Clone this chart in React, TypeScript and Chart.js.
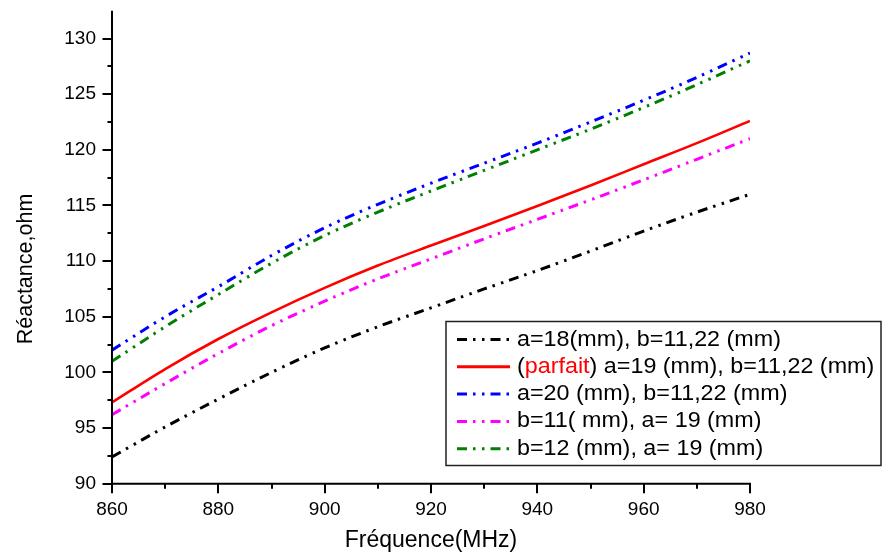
import React, { useEffect, useRef } from "react";
import { Chart, registerables } from "chart.js";

Chart.register(...registerables);

// ---- data ----
const FREQ = [860, 870, 880, 890, 900, 910, 920, 930, 940, 950, 960, 970, 980];
const A18 = [92.4, 95.1, 97.6, 100.0, 102.2, 104.1, 105.8, 107.5, 109.15, 110.9, 112.7, 114.4, 116.0];
const PARFAIT = [97.3, 100.3, 103.0, 105.4, 107.6, 109.6, 111.4, 113.15, 114.95, 116.8, 118.7, 120.6, 122.6];
const A20 = [102.0, 105.0, 107.7, 110.5, 113.0, 115.1, 117.0, 118.8, 120.6, 122.5, 124.45, 126.5, 128.7];
const B11 = [96.2, 99.0, 101.7, 104.2, 106.4, 108.4, 110.2, 112.0, 113.75, 115.5, 117.3, 119.15, 121.0];
const B12 = [101.0, 104.1, 107.0, 109.8, 112.3, 114.4, 116.3, 118.15, 120.0, 121.85, 123.8, 125.85, 128.0];

const X_TICKS = [860, 880, 900, 920, 940, 960, 980];
const Y_TICKS = [90, 95, 100, 105, 110, 115, 120, 125, 130];

const LABELS = [
  "a=18(mm), b=11,22 (mm)",
  "(parfait) a=19 (mm), b=11,22 (mm)",
  "a=20 (mm), b=11,22 (mm)",
  "b=11( mm), a= 19 (mm)",
  "b=12 (mm), a= 19 (mm)",
];
const X_TITLE = "Fréquence(MHz)";
const Y_TITLE = "Réactance,ohm";

const DASH_DOT_DOT = [10, 6, 2.5, 6.5, 2.5, 6];
const COLORS = ["#000000", "#ff0000", "#0000ff", "#ff00ff", "#008000"];
const DASHES = [DASH_DOT_DOT, [], DASH_DOT_DOT, DASH_DOT_DOT, DASH_DOT_DOT];
const SERIES = [A18, PARFAIT, A20, B11, B12];

const FONT = '"Liberation Sans", Arial, Helvetica, sans-serif';

const decorPlugin = {
  id: "decor",
  afterDraw(chart: any) {
    const { ctx, chartArea } = chart;
    const xs = chart.scales.x;
    const ys = chart.scales.y;
    const L = chartArea.left;
    const B = chartArea.bottom;
    ctx.save();
    ctx.strokeStyle = "#000";
    ctx.setLineDash([]);
    ctx.lineWidth = 2;
    // axis lines
    ctx.beginPath();
    ctx.moveTo(L, chartArea.top);
    ctx.lineTo(L, B + 1);
    ctx.moveTo(L - 1, B);
    ctx.lineTo(xs.getPixelForValue(980) + 1, B);
    ctx.stroke();
    // y ticks
    ctx.beginPath();
    for (let v = 90; v <= 132; v += 2.5) {
      const y = Math.round(ys.getPixelForValue(v));
      const major = Math.abs(v % 5) < 1e-6;
      ctx.moveTo(L - (major ? 9.5 : 4.5), y);
      ctx.lineTo(L, y);
    }
    // x ticks
    for (let v = 860; v <= 980; v += 10) {
      const x = Math.round(xs.getPixelForValue(v));
      const major = v % 20 === 0;
      ctx.moveTo(x, B);
      ctx.lineTo(x, B + (major ? 9.5 : 5));
    }
    ctx.stroke();

    // titles
    ctx.fillStyle = "#000";
    ctx.font = `23px ${FONT}`;
    ctx.textAlign = "center";
    ctx.textBaseline = "alphabetic";
    ctx.fillText(X_TITLE, (chartArea.left + chartArea.right) / 2, 546.5);
    ctx.save();
    ctx.translate(31.5, 269);
    ctx.rotate(-Math.PI / 2);
    ctx.font = `21.5px ${FONT}`;
    ctx.fillText(Y_TITLE, 0, 0);
    ctx.restore();

    // legend
    const bx = 446, by = 321.5, bw = 435, bh = 144;
    ctx.fillStyle = "#fff";
    ctx.fillRect(bx, by, bw, bh);
    ctx.lineWidth = 1.5;
    ctx.strokeStyle = "#222";
    ctx.strokeRect(bx, by, bw, bh);
    ctx.font = `22px ${FONT}`;
    ctx.textAlign = "left";
    ctx.textBaseline = "middle";
    const sx = 1.06;
    LABELS.forEach((label, i) => {
      const y = 339.5 + i * 27.3;
      ctx.beginPath();
      ctx.strokeStyle = COLORS[i];
      ctx.lineWidth = 3;
      ctx.setLineDash(DASHES[i]);
      ctx.moveTo(457, y);
      ctx.lineTo(510, y);
      ctx.stroke();
      ctx.setLineDash([]);
      let segs: { t: string; c: string }[];
      if (i === 1) {
        segs = [
          { t: "(", c: "#000" },
          { t: "parfait", c: "#ff0000" },
          { t: label.slice(8), c: "#000" },
        ];
      } else {
        segs = [{ t: label, c: "#000" }];
      }
      let x = 517;
      segs.forEach((s) => {
        ctx.save();
        ctx.translate(x, y);
        ctx.scale(sx, 1);
        ctx.fillStyle = s.c;
        ctx.fillText(s.t, 0, 0);
        ctx.restore();
        x += ctx.measureText(s.t).width * sx;
      });
    });
    ctx.restore();
  },
};

export default function App() {
  const ref = useRef<HTMLCanvasElement>(null);
  useEffect(() => {
    if (!ref.current) return;
    const chart = new Chart(ref.current, {
      type: "line",
      data: {
        datasets: SERIES.map((s, i) => ({
          label: LABELS[i],
          data: s.map((v, k) => ({ x: FREQ[k], y: v })),
          borderColor: COLORS[i],
          backgroundColor: COLORS[i],
          borderDash: DASHES[i],
          borderWidth: i === 1 ? 2.6 : 3,
          pointRadius: 0,
          cubicInterpolationMode: "monotone",
          fill: false,
        })),
      },
      options: {
        responsive: false,
        animation: false,
        events: [],
        layout: { padding: { left: 0, right: 132, top: 10.7, bottom: 0 } },
        plugins: { legend: { display: false }, tooltip: { enabled: false } },
        scales: {
          x: {
            type: "linear",
            min: 860,
            max: 980,
            afterBuildTicks: (s: any) => {
              s.ticks = X_TICKS.map((v) => ({ value: v }));
            },
            afterFit: (s: any) => {
              s.height = 73.3;
              s.paddingLeft = 0;
              s.paddingRight = 0;
            },
            grid: { display: false, drawTicks: false },
            border: { display: false },
            ticks: {
              autoSkip: false,
              maxRotation: 0,
              padding: 15,
              color: "#000",
              font: { family: FONT, size: 19 },
            },
          },
          y: {
            type: "linear",
            min: 90,
            max: 132.5,
            afterBuildTicks: (s: any) => {
              s.ticks = Y_TICKS.map((v) => ({ value: v }));
            },
            afterFit: (s: any) => {
              s.width = 112;
              s.paddingTop = 0;
              s.paddingBottom = 0;
            },
            grid: { display: false, drawTicks: false },
            border: { display: false },
            ticks: {
              padding: 16,
              color: "#000",
              font: { family: FONT, size: 19 },
            },
          },
        },
      },
      plugins: [decorPlugin],
    } as any);
    return () => chart.destroy();
  }, []);
  return (
    <div style={{ position: "absolute", left: 0, top: 0, width: 882, height: 557 }}>
      <canvas ref={ref} width={882} height={557} style={{ display: "block" }} />
    </div>
  );
}
